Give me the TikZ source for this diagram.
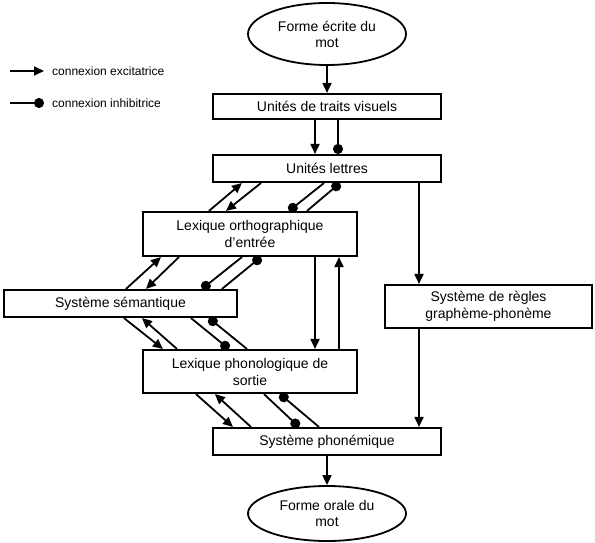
\documentclass[tikz,border=0pt]{standalone}
\usepackage{fontspec}
\setmainfont{Liberation Sans}
\usetikzlibrary{shapes.geometric,arrows.meta}
\tikzset{boite/.style={draw, line width=2.1pt, align=center, inner sep=0pt, font=\fontsize{14}{17}\selectfont}}
\tikzset{ovale/.style={ellipse, draw, line width=1.8pt, align=center, inner sep=0pt, font=\fontsize{14}{16}\selectfont}}
\tikzset{legende/.style={anchor=west, inner sep=0pt, font=\fontsize{12}{14}\selectfont}}
\tikzset{exc/.style={line width=1.8pt, -{Triangle[length=10pt,width=9pt]}}}
\tikzset{inh/.style={line width=1.8pt, -{Circle[length=10pt]}}}

\begin{document}
\begin{tikzpicture}[x=1pt,y=-1pt]
\useasboundingbox (0,0) rectangle (595,543);
\node[ovale, minimum width=158pt, minimum height=62pt] (ecrite) at (327,34) {Forme écrite du\\mot};
\node[boite, minimum width=228pt, minimum height=25pt] (visuels) at (327,106.5) {Unités de traits visuels};
\node[boite, minimum width=228pt, minimum height=27pt] (lettres) at (327,168.5) {Unités lettres};
\node[boite, minimum width=214pt, minimum height=44pt] (ortho) at (250,234) {Lexique orthographique\\d'entrée};
\node[boite, minimum width=233pt, minimum height=27pt] (sem) at (120.5,303.5) {Système sémantique};
\node[boite, minimum width=214pt, minimum height=43pt] (phono) at (250,371.5) {Lexique phonologique de\\sortie};
\node[boite, minimum width=228pt, minimum height=27pt] (phonem) at (327,441.5) {Système phonémique};
\node[boite, minimum width=207pt, minimum height=43pt] (regles) at (488.5,306.5) {Système de règles\\graphème-phonème};
\node[ovale, minimum width=158pt, minimum height=55pt] (orale) at (327,513.5) {Forme orale du\\mot};

\coordinate (lexca) at (10,71);
\coordinate (lexcb) at (44,71);
\node[legende] (texc) at (52,71) {connexion excitatrice};
\coordinate (linha) at (10,103);
\coordinate (linhb) at (44,103);
\node[legende] (tinh) at (52,103) {connexion inhibitrice};
\draw[exc] (lexca) -- (lexcb);
\draw[inh] (linha) -- (linhb);

\draw[exc] (ecrite) -- (visuels);
\draw[exc] ([xshift=-12pt]visuels.south) -- ([xshift=-12pt]lettres.north);
\draw[inh] ([xshift=11pt]visuels.south) -- ([xshift=11pt]lettres.north);

\draw[exc] ([xshift=67pt]ortho.north west) -- ([xshift=30pt]lettres.south west);
\draw[exc] ([xshift=49pt]lettres.south west) -- ([xshift=84pt]ortho.north west);
\draw[inh] ([xshift=112pt]lettres.south west) -- ([xshift=147pt]ortho.north west);
\draw[inh] ([xshift=165pt]ortho.north west) -- ([xshift=128pt]lettres.south west);

\draw[exc] ([xshift=123pt]sem.north west) -- ([xshift=19pt]ortho.south west);
\draw[exc] ([xshift=37pt]ortho.south west) -- ([xshift=143pt]sem.north west);
\draw[inh] ([xshift=100pt]ortho.south west) -- ([xshift=199pt]sem.north west);
\draw[inh] ([xshift=219pt]sem.north west) -- ([xshift=119pt]ortho.south west);

\draw[exc] ([xshift=121pt]sem.south west) -- ([xshift=21pt]phono.north west);
\draw[exc] ([xshift=35pt]phono.north west) -- ([xshift=139pt]sem.south west);
\draw[inh] ([xshift=188pt]sem.south west) -- ([xshift=87pt]phono.north west);
\draw[inh] ([xshift=105pt]phono.north west) -- ([xshift=206pt]sem.south west);

\draw[exc] ([xshift=54pt]phono.south west) -- ([xshift=21pt]phonem.north west);
\draw[exc] ([xshift=39pt]phonem.north west) -- ([xshift=73pt]phono.south west);
\draw[inh] ([xshift=122pt]phono.south west) -- ([xshift=87pt]phonem.north west);
\draw[inh] ([xshift=107pt]phonem.north west) -- ([xshift=138pt]phono.south west);

\draw[exc] ([xshift=65pt]ortho.south) -- ([xshift=65pt]phono.north);
\draw[exc] ([xshift=89pt]phono.north) -- ([xshift=89pt]ortho.south);

\coordinate (gp) at ([xshift=92pt]lettres.south);
\draw[exc] (gp) -- (gp |- regles.north);
\draw[exc] (gp |- regles.south) -- (gp |- phonem.north);
\draw[exc] (phonem) -- (orale);
\end{tikzpicture}
\end{document}
